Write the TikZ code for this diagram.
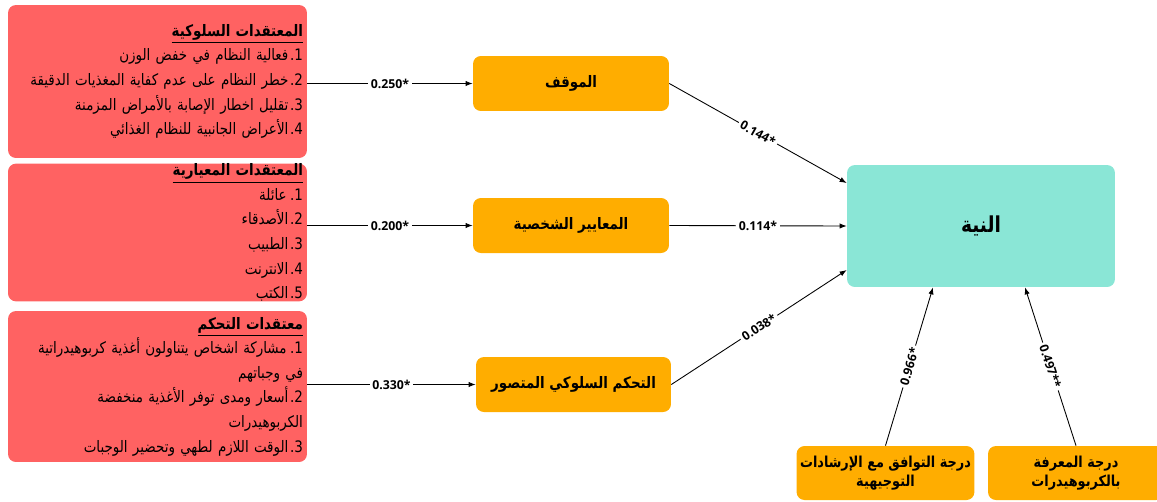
\documentclass[tikz,border=0pt]{standalone}
\usepackage{fontspec}
\usepackage{xcolor}
\usepackage{tikz}
\usetikzlibrary{arrows.meta, positioning}
\TeXXeTstate=1
\newfontfamily\arabicfont[Script=Arabic, FakeStretch=0.85]{DejaVu Sans}
\newfontfamily\numfont{Open Sans}
\definecolor{beliefred}{HTML}{FF6262}
\definecolor{factororange}{HTML}{FFAD00}
\definecolor{intentteal}{HTML}{8AE6D6}
\newcommand{\indt}[1][0.24cm]{\hspace*{#1}}

\begin{document}
\begin{tikzpicture}[
  x=0.02cm, y=-0.02cm,
  belief/.style={rectangle, fill=beliefred, rounded corners=4.5pt, minimum width=5.98cm,
                 text width=5.82cm, inner xsep=0.08cm, inner ysep=0pt, align=right,
                 font=\arabicfont\fontsize{9}{14}\selectfont},
  factor/.style={rectangle, fill=factororange, rounded corners=4.5pt, minimum width=3.92cm,
                 minimum height=1.1cm, align=center, font=\arabicfont\bfseries\fontsize{9}{11}\selectfont},
  intent/.style={rectangle, fill=intentteal, rounded corners=4.5pt, minimum width=5.36cm,
                 minimum height=2.44cm, font=\arabicfont\bfseries\fontsize{12.5}{15}\selectfont},
  arrow/.style={-{Latex[length=4pt,width=3pt]}, line width=0.5pt, black},
  coef/.style={fill=white, inner sep=1.5pt, font=\numfont\bfseries\fontsize{7}{8}\selectfont}
]
\path[use as bounding box, clip] (0,0) rectangle (1157,501);

% belief boxes
\node (beh) [belief, minimum height=3.06cm] at (157.5,81.5)
  {\underline{\bfseries\beginR المعتقدات السلوكية\endR}\\
   \mbox{\beginR 1\kern0pt.\kern1pt فعالية النظام في خفض الوزن\endR}\indt\\
   \mbox{\beginR 2\kern0pt.\kern1pt خطر النظام على عدم كفاية المغذيات الدقيقة\endR}\indt\\
   \mbox{\beginR 3\kern0pt.\kern1pt تقليل اخطار الإصابة بالأمراض المزمنة\endR}\indt\\
   \mbox{\beginR 4\kern0pt.\kern1pt الأعراض الجانبية للنظام الغذائي\endR}\indt};
\node (nrm) [belief, minimum height=2.7cm] at (157.5,232.5)
  {\underline{\bfseries\beginR المعتقدات المعيارية\endR}\\
   \mbox{\beginR 1\kern0pt.\kern2pt عائلة\endR}\indt\\
   \mbox{\beginR 2\kern0pt.\kern1pt الأصدقاء\endR}\indt\\
   \mbox{\beginR 3\kern0pt.\kern1pt الطبيب\endR}\indt\\
   \mbox{\beginR 4\kern0pt.\kern1pt الانترنت\endR}\indt\\
   \mbox{\beginR 5\kern0pt.\kern1pt الكتب\endR}\indt};
\node (ctl) [belief, minimum height=3.02cm] at (157.5,386.5)
  {\underline{\bfseries\beginR معتقدات التحكم\endR}\\
   \mbox{\beginR 1\kern0pt.\kern2pt مشاركة اشخاص يتناولون أغذية كربوهيدراتية\endR}\indt\\
   \mbox{\beginR في وجباتهم\endR}\indt[0.44cm]\\
   \mbox{\beginR 2\kern0pt.\kern1pt أسعار ومدى توفر الأغذية منخفضة\endR}\indt\\
   \mbox{\beginR الكربوهيدرات\endR}\indt[0.2cm]\\
   \mbox{\beginR 3\kern0pt.\kern1pt الوقت اللازم لطهي وتحضير الوجبات\endR}\indt};

% TPB factors
\node (att) [factor] at (571,83.5)   {\beginR الموقف\endR};
\node (sn)  [factor] at (571,225.5)  {\beginR المعايير الشخصية\endR};
\node (pbc) [factor, minimum width=3.9cm] at (573.5,384.5) {\beginR التحكم السلوكي المتصور\endR};
\node (int) [intent] at (981,226)    {\beginR النية\endR};
\node (cmp) [factor, minimum width=3.54cm, minimum height=1.08cm, inner xsep=2pt,
             font=\arabicfont\bfseries\fontsize{8.6}{10.5}\selectfont] at (885.5,473)
  {\beginR درجة التوافق مع الإرشادات\endR\\\beginR التوجيهية\endR};
\node (knw) [factor, minimum width=3.52cm, minimum height=1.08cm, inner xsep=2pt,
             font=\arabicfont\bfseries\fontsize{8.6}{10.5}\selectfont] at (1076,473)
  {\beginR درجة المعرفة\endR\\\beginR بالكربوهيدرات\endR};

\draw [arrow] (beh.east |- att.west) -- node[coef]{0.250*} (att.west);
\draw [arrow] (nrm.east |- sn.west)  -- node[coef]{0.200*} (sn.west);
\draw [arrow] (ctl.east |- pbc.west) -- node[coef]{0.330*} (pbc.west);
\draw [arrow] (att.east) -- node[coef, sloped]{0.144*} ([yshift=0.86cm]int.west);
\draw [arrow] (sn.east)  -- node[coef]{0.114*} (int.west);
\draw [arrow] (pbc.east) -- node[coef, sloped]{0.038*} ([yshift=-0.88cm]int.west);
\draw [arrow] (cmp.north) -- node[coef, sloped]{0.966*} ([xshift=-0.96cm]int.south);
\draw [arrow] (knw.north) -- node[coef, sloped]{0.497**} ([xshift=0.88cm]int.south);
\end{tikzpicture}
\end{document}
